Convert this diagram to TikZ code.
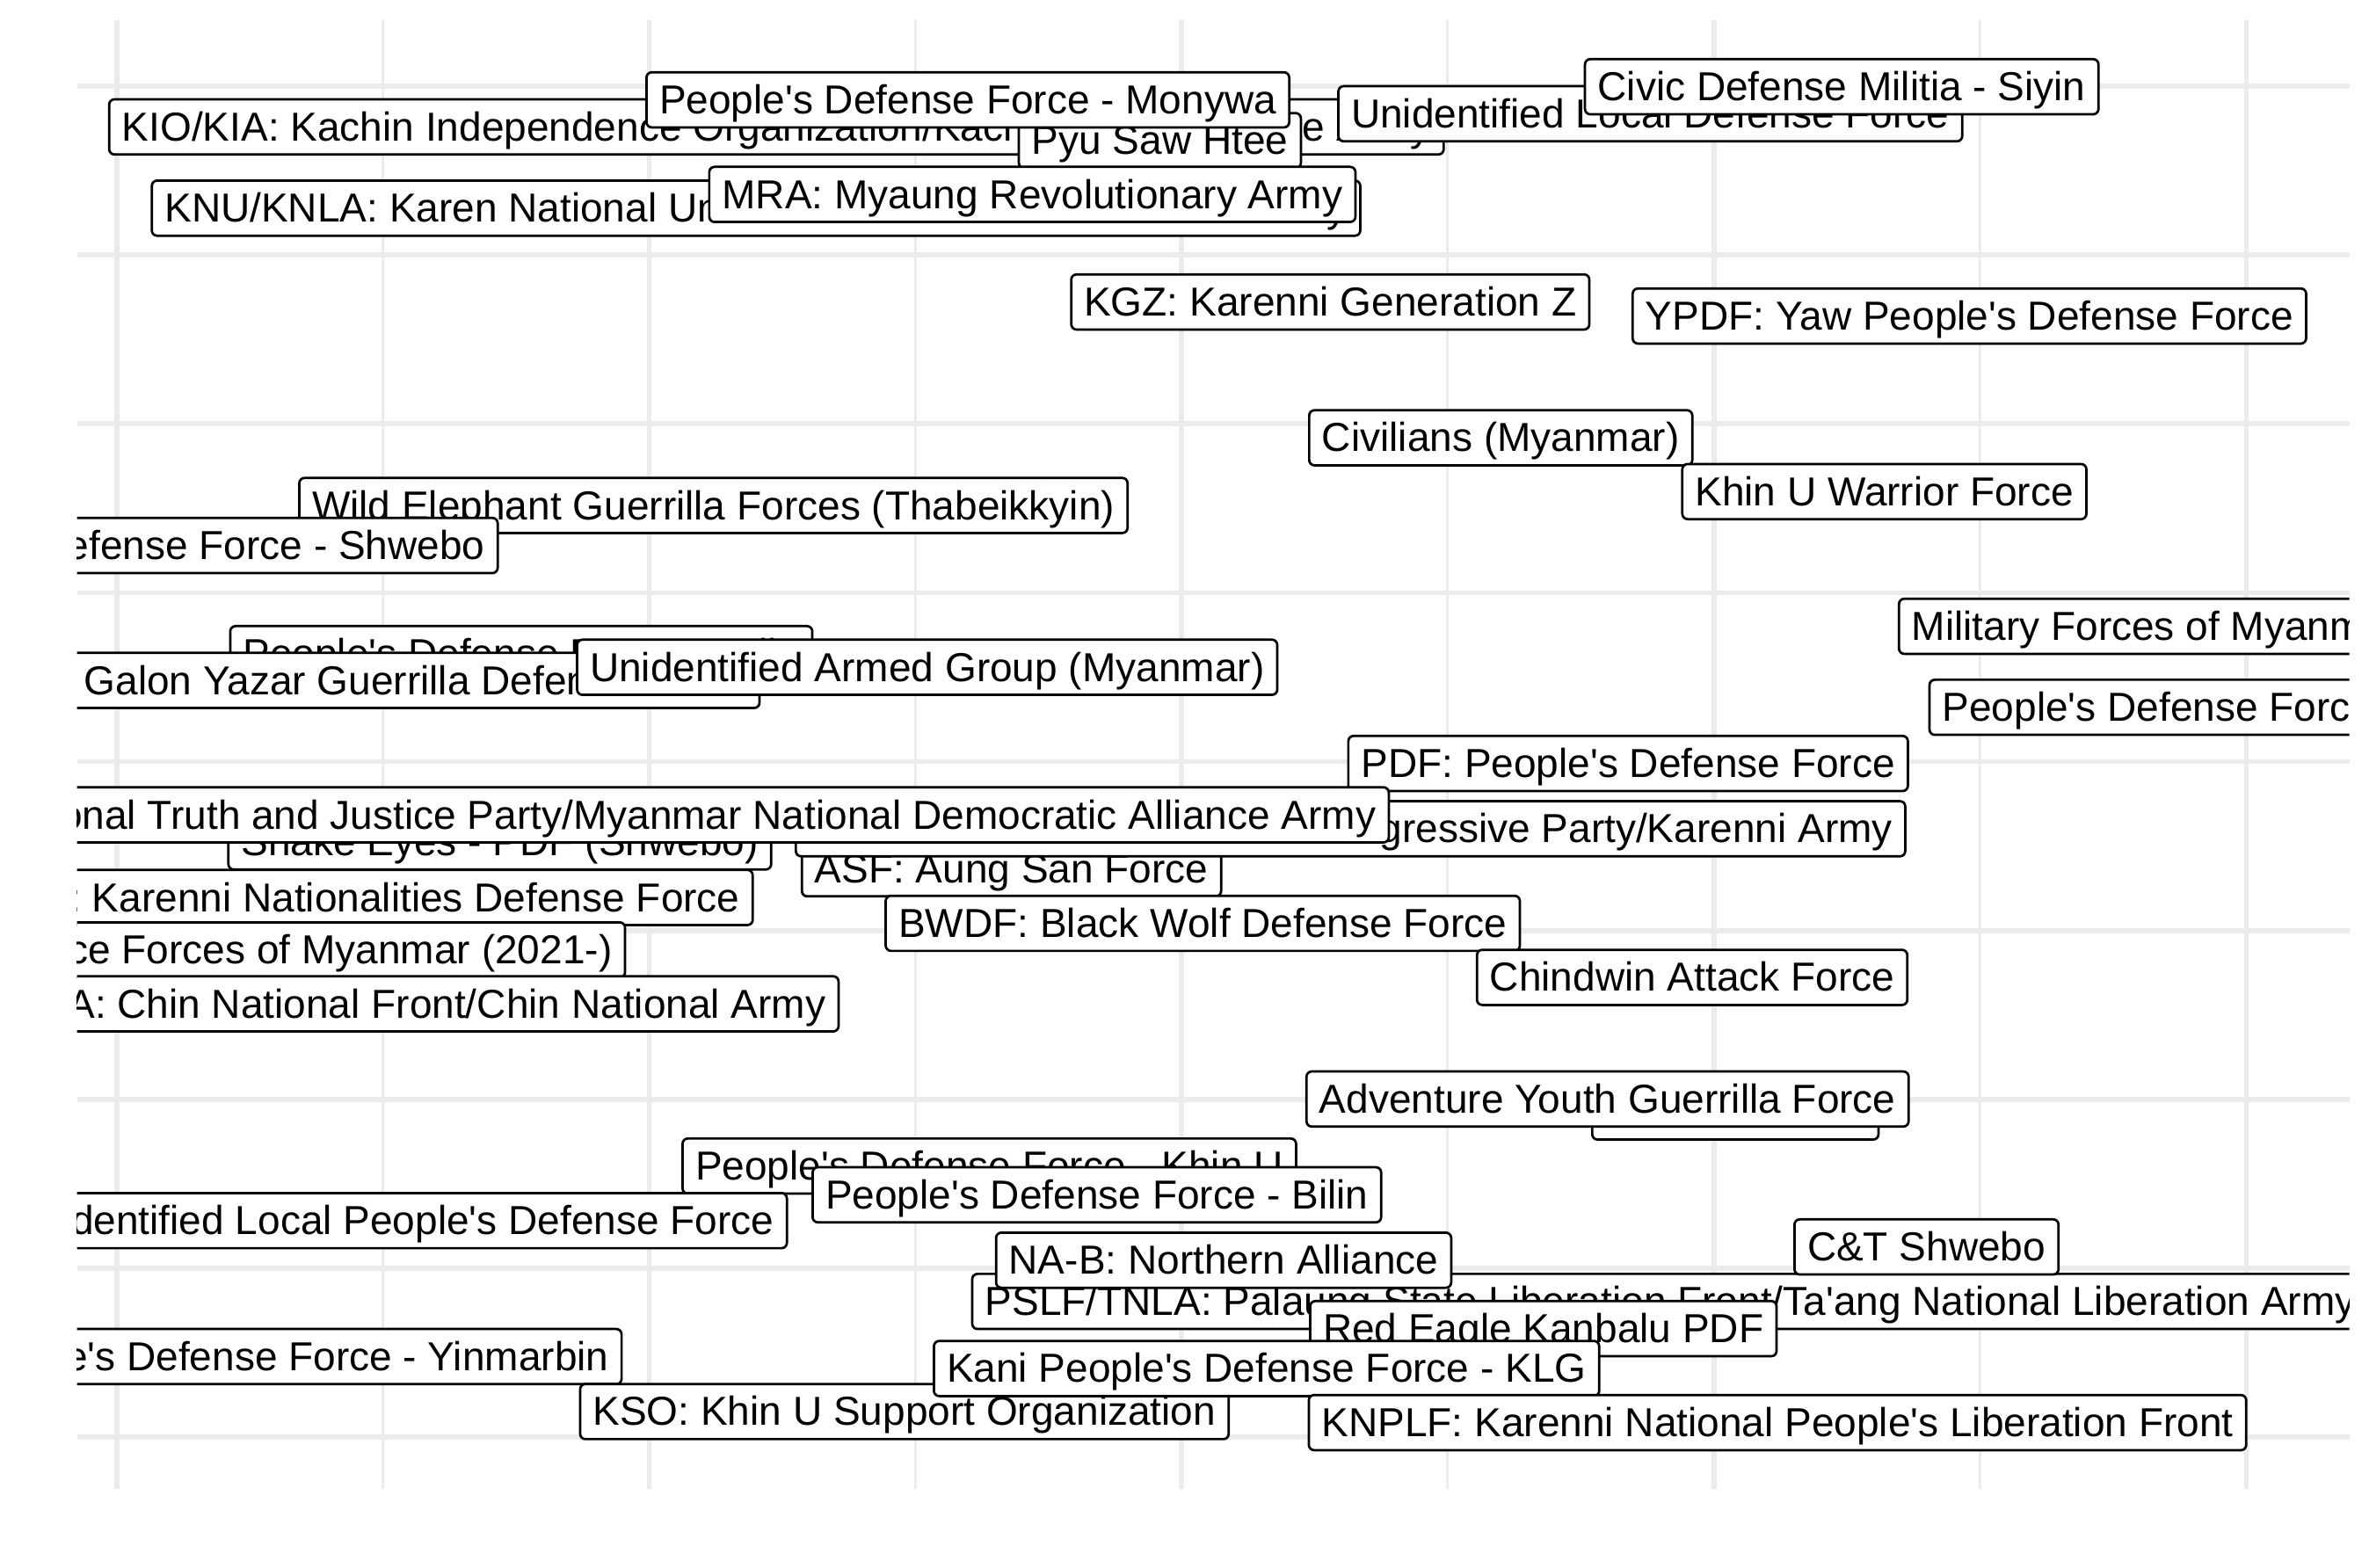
\documentclass[tikz,border=0pt]{standalone}
\usepackage{fontspec}
\setmainfont{Liberation Sans}[Ligatures=TeXOff]
\definecolor{gridgray}{HTML}{EBEBEB}

\begin{document}
\begin{tikzpicture}[x=0.02cm, y=-0.02cm,
        actor/.style={draw, fill=white, rounded corners=0.07cm, line width=0.9pt, inner xsep=0.17cm, inner ysep=0pt, text height=0.55cm, text depth=0.18cm, font={\fontsize{15.24}{18}\selectfont}},
        actorW/.style={actor, anchor=west},
        actorE/.style={actor, anchor=east},
        gridMajor/.style={draw=gridgray, line width=1.9pt},
        gridMinor/.style={draw=gridgray, line width=0.95pt}]

        \useasboundingbox (0,0) rectangle (1568,1037.4);

        % grid of the panel
        \foreach \gy in {57,168.8,280.6,392.4,504.2,616,727.8,839.6,951.4}
            \draw[gridMajor] (51,\gy) -- (1555,\gy);
        \foreach \gx in {253.4,605.8,958.2,1310.6}
            \draw[gridMinor] (\gx,13.3) -- (\gx,985.6);
        \foreach \gx in {77.2,429.6,782,1134.4,1486.8}
            \draw[gridMajor] (\gx,13.3) -- (\gx,985.6);

        \begin{scope}
        \clip (51,13.3) rectangle (1555,985.6);

        \node[actor] (KIO) at (513.9,84) {KIO/KIA: Kachin Independence Organization/Kachin Independence Army};
        \node[actor] (PSH) at (767.7,93.1) {Pyu Saw Htee};
        \node[actor] (PDFMon) at (640.6,66.1) {People's Defense Force - Monywa};
        \node[actor] (ULDF) at (1092.3,75.3) {Unidentified Local Defense Force};
        \node[actor] (CDM) at (1219,57.4) {Civic Defense Militia - Siyin};
        \node[actor] (KNU) at (500.4,137.8) {KNU/KNLA: Karen National Union/Karen National Liberation Army};
        \node[actor] (MRA) at (683.3,128.7) {MRA: Myaung Revolutionary Army};
        \node[actor] (KGZ) at (880.5,199.9) {KGZ: Karenni Generation Z};
        \node[actor] (YPDF) at (1303.5,209.2) {YPDF: Yaw People's Defense Force};
        \node[actor] (Civ) at (993.3,289.8) {Civilians (Myanmar)};
        \node[actor] (KUWF) at (1247.2,325.4) {Khin U Warrior Force};
        \node[actor] (WEGF) at (472.2,334.6) {Wild Elephant Guerrilla Forces (Thabeikkyin)};
        \node[actorE] (PDFShw) at (330.2,361.1) {People's Defense Force - Shwebo};
        \node[actorW] (MilF) at (1256.1,414.6) {Military Forces of Myanmar (2021-)};
        \node[actorW] (PDFx) at (1276.3,468.2) {People's Defense Force};
        \node[actor] (PDFSal) at (345,432.7) {People's Defense Force - Salin};
        \node[actorE] (GYGDF) at (503.5,450.4) {Galon Yazar Guerrilla Defense Force};
        \node[actor] (UAG) at (613.7,441.7) {Unidentified Armed Group (Myanmar)};
        \node[actor] (PDF) at (1077.6,505.4) {PDF: People's Defense Force};
        \node[actor] (Snake) at (330.8,557.3) {Snake Eyes - PDF (Shwebo)};
        \node[actor] (ASF) at (669.5,575.1) {ASF: Aung San Force};
        \node[actor] (KNPP) at (893.9,548.6) {KNPP/KA: Karenni National Progressive Party/Karenni Army};
        \node[actorE] (MNDAA) at (920,539.4) {MNTJP/MNDAA: Myanmar National Truth and Justice Party/Myanmar National Democratic Alliance Army};
        \node[actorE] (KNDF) at (499,594.1) {KNDF: Karenni Nationalities Defense Force};
        \node[actorE] (Police) at (414.5,628.8) {Police Forces of Myanmar (2021-)};
        \node[actor] (BWDF) at (796.1,611.2) {BWDF: Black Wolf Defense Force};
        \node[actor] (CAF) at (1120,647) {Chindwin Attack Force};
        \node[actorE] (CNF) at (555.8,664.5) {CNF/CNA: Chin National Front/Chin National Army};
        \node[actor, minimum width=3.79cm] (Hid) at (1148.6,736.1) {};
        \node[actor] (AYGF) at (1064,727.5) {Adventure Youth Guerrilla Force};
        \node[actor] (PDFKhU) at (654.8,771.9) {People's Defense Force - Khin U};
        \node[actor] (PDFBil) at (726,790.9) {People's Defense Force - Bilin};
        \node[actorE] (ULPDF) at (521.6,808) {Unidentified Local People's Defense Force};
        \node[actorW] (PSLF) at (642.7,861.5) {PSLF/TNLA: Palaung State Liberation Front/Ta'ang National Liberation Army};
        \node[actor] (NAB) at (809.9,834.2) {NA-B: Northern Alliance};
        \node[actor] (CTS) at (1275.1,825.4) {C\&T Shwebo};
        \node[actor] (REK) at (1021.5,879.5) {Red Eagle Kanbalu PDF};
        \node[actorE] (PDFYin) at (412.2,898) {People's Defense Force - Yinmarbin};
        \node[actor] (KSO) at (598.6,934.4) {KSO: Khin U Support Organization};
        \node[actor] (KLG) at (838.3,905.9) {Kani People's Defense Force - KLG};
        \node[actor] (KNPLF) at (1176.5,941.7) {KNPLF: Karenni National People's Liberation Front};
        \end{scope}
    \end{tikzpicture}
\end{document}
